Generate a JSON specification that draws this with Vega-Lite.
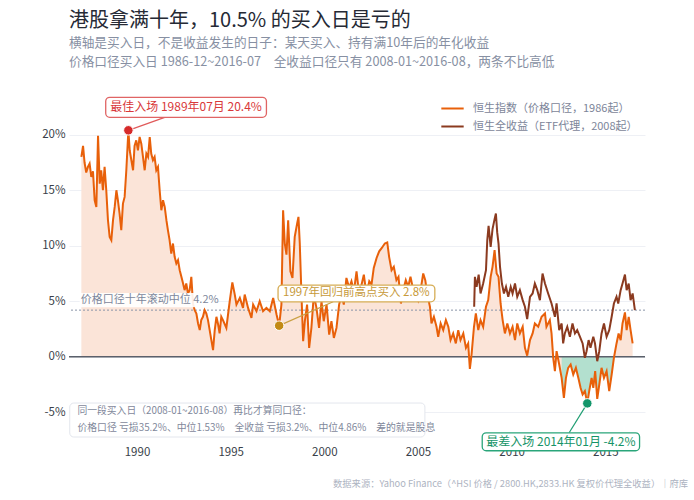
{
  "$schema": "https://vega.github.io/schema/vega-lite/v6.json",
  "autosize": {"type": "none"},
  "padding": {"left": 69, "top": 107, "right": 49, "bottom": 60},
  "width": 576,
  "height": 333,
  "background": "white",
  "title": {
    "text": "港股拿满十年，10.5% 的买入日是亏的",
    "subtitle": [
      "横轴是买入日，不是收益发生的日子：某天买入、持有满10年后的年化收益",
      "价格口径买入日 1986-12~2016-07　全收益口径只有 2008-01~2016-08，两条不比高低"
    ],
    "anchor": "start",
    "frame": "group",
    "offset": 27,
    "fontSize": 20,
    "fontWeight": "normal",
    "color": "#262a35",
    "subtitleFontSize": 12.7,
    "subtitleColor": "#8790a3",
    "subtitlePadding": 6,
    "subtitleLineHeight": 19
  },
  "config": {
    "font": "Noto Sans CJK SC",
    "view": {"stroke": null}
  },
  "datasets": {
    "price": [
      {"t": 1987.03, "v": 18.0}, {"t": 1987.12, "v": 19.0}, {"t": 1987.20, "v": 17.5}, {"t": 1987.29, "v": 16.6},
      {"t": 1987.38, "v": 17.1}, {"t": 1987.47, "v": 17.4}, {"t": 1987.56, "v": 16.2}, {"t": 1987.65, "v": 16.7},
      {"t": 1987.74, "v": 14.1}, {"t": 1987.83, "v": 13.5}, {"t": 1987.92, "v": 19.9}, {"t": 1988.01, "v": 15.6},
      {"t": 1988.09, "v": 16.8}, {"t": 1988.18, "v": 15.0}, {"t": 1988.27, "v": 17.1}, {"t": 1988.36, "v": 15.0},
      {"t": 1988.45, "v": 12.3}, {"t": 1988.54, "v": 10.8}, {"t": 1988.63, "v": 10.5}, {"t": 1988.72, "v": 12.3},
      {"t": 1988.81, "v": 13.5}, {"t": 1988.90, "v": 15.0}, {"t": 1988.98, "v": 14.1}, {"t": 1989.07, "v": 12.9},
      {"t": 1989.16, "v": 11.4}, {"t": 1989.25, "v": 13.8}, {"t": 1989.34, "v": 14.4}, {"t": 1989.43, "v": 16.8},
      {"t": 1989.54, "v": 20.4}, {"t": 1989.61, "v": 18.6}, {"t": 1989.70, "v": 17.7}, {"t": 1989.79, "v": 16.8},
      {"t": 1989.87, "v": 19.0}, {"t": 1989.96, "v": 19.5}, {"t": 1990.05, "v": 18.6}, {"t": 1990.14, "v": 19.8},
      {"t": 1990.23, "v": 19.2}, {"t": 1990.32, "v": 18.0}, {"t": 1990.41, "v": 16.8}, {"t": 1990.50, "v": 18.3},
      {"t": 1990.59, "v": 18.0}, {"t": 1990.68, "v": 19.8}, {"t": 1990.76, "v": 18.3}, {"t": 1990.85, "v": 17.7},
      {"t": 1990.94, "v": 18.0}, {"t": 1991.03, "v": 16.8}, {"t": 1991.12, "v": 17.1}, {"t": 1991.21, "v": 15.0},
      {"t": 1991.30, "v": 13.2}, {"t": 1991.39, "v": 14.1}, {"t": 1991.48, "v": 13.5}, {"t": 1991.57, "v": 12.3},
      {"t": 1991.65, "v": 11.4}, {"t": 1991.74, "v": 10.5}, {"t": 1991.83, "v": 9.3}, {"t": 1991.92, "v": 10.2},
      {"t": 1992.01, "v": 9.0}, {"t": 1992.10, "v": 8.4}, {"t": 1992.19, "v": 8.7}, {"t": 1992.28, "v": 7.8},
      {"t": 1992.37, "v": 7.2}, {"t": 1992.46, "v": 6.6}, {"t": 1992.54, "v": 6.0}, {"t": 1992.63, "v": 6.6},
      {"t": 1992.72, "v": 5.7}, {"t": 1992.81, "v": 6.0}, {"t": 1992.90, "v": 7.2}, {"t": 1992.99, "v": 4.8},
      {"t": 1993.08, "v": 4.2}, {"t": 1993.17, "v": 3.9}, {"t": 1993.26, "v": 3.0}, {"t": 1993.35, "v": 2.4},
      {"t": 1993.43, "v": 3.3}, {"t": 1993.52, "v": 3.6}, {"t": 1993.61, "v": 4.2}, {"t": 1993.70, "v": 3.9},
      {"t": 1993.79, "v": 3.3}, {"t": 1993.88, "v": 2.4}, {"t": 1993.97, "v": 1.5}, {"t": 1994.06, "v": 0.6},
      {"t": 1994.15, "v": 2.4}, {"t": 1994.24, "v": 3.6}, {"t": 1994.32, "v": 3.0}, {"t": 1994.41, "v": 2.1},
      {"t": 1994.50, "v": 3.6}, {"t": 1994.59, "v": 3.3}, {"t": 1994.77, "v": 2.6}, {"t": 1994.95, "v": 5.0},
      {"t": 1995.09, "v": 6.7}, {"t": 1995.22, "v": 5.6}, {"t": 1995.31, "v": 4.7}, {"t": 1995.49, "v": 5.3},
      {"t": 1995.66, "v": 4.4}, {"t": 1995.75, "v": 5.6}, {"t": 1995.93, "v": 4.4}, {"t": 1996.11, "v": 3.5},
      {"t": 1996.20, "v": 4.7}, {"t": 1996.38, "v": 4.1}, {"t": 1996.55, "v": 5.0}, {"t": 1996.73, "v": 4.1},
      {"t": 1996.91, "v": 4.4}, {"t": 1997.09, "v": 4.1}, {"t": 1997.27, "v": 5.3}, {"t": 1997.45, "v": 3.8},
      {"t": 1997.59, "v": 2.8}, {"t": 1997.71, "v": 4.7}, {"t": 1997.80, "v": 13.2}, {"t": 1997.89, "v": 10.2},
      {"t": 1997.98, "v": 9.2}, {"t": 1998.07, "v": 12.3}, {"t": 1998.19, "v": 7.7}, {"t": 1998.30, "v": 7.1},
      {"t": 1998.42, "v": 10.8}, {"t": 1998.55, "v": 12.0}, {"t": 1998.62, "v": 12.6}, {"t": 1998.69, "v": 10.2},
      {"t": 1998.78, "v": 5.6}, {"t": 1998.87, "v": 1.4}, {"t": 1998.96, "v": 3.2}, {"t": 1999.08, "v": 4.7},
      {"t": 1999.19, "v": 0.8}, {"t": 1999.31, "v": 2.6}, {"t": 1999.44, "v": 5.6}, {"t": 1999.58, "v": 4.4},
      {"t": 1999.72, "v": 2.6}, {"t": 1999.85, "v": 5.0}, {"t": 1999.97, "v": 3.2}, {"t": 2000.12, "v": 4.7},
      {"t": 2000.26, "v": 2.0}, {"t": 2000.38, "v": 3.2}, {"t": 2000.51, "v": 1.7}, {"t": 2000.65, "v": 2.6},
      {"t": 2000.79, "v": 4.7}, {"t": 2000.92, "v": 5.6}, {"t": 2001.04, "v": 4.7}, {"t": 2001.18, "v": 7.1},
      {"t": 2001.33, "v": 6.2}, {"t": 2001.45, "v": 6.8}, {"t": 2001.58, "v": 5.9}, {"t": 2001.72, "v": 7.7},
      {"t": 2001.86, "v": 5.6}, {"t": 2001.99, "v": 6.5}, {"t": 2002.11, "v": 7.4}, {"t": 2002.25, "v": 5.6},
      {"t": 2002.40, "v": 6.8}, {"t": 2002.52, "v": 6.5}, {"t": 2002.64, "v": 8.0}, {"t": 2002.79, "v": 8.9},
      {"t": 2002.93, "v": 9.5}, {"t": 2003.07, "v": 9.8}, {"t": 2003.23, "v": 10.2}, {"t": 2003.36, "v": 10.3},
      {"t": 2003.46, "v": 9.0}, {"t": 2003.59, "v": 7.8}, {"t": 2003.71, "v": 8.1}, {"t": 2003.85, "v": 6.9},
      {"t": 2003.96, "v": 7.2}, {"t": 2004.09, "v": 4.8}, {"t": 2004.21, "v": 6.0}, {"t": 2004.35, "v": 6.9},
      {"t": 2004.48, "v": 6.3}, {"t": 2004.60, "v": 7.2}, {"t": 2004.75, "v": 6.0}, {"t": 2004.89, "v": 5.7},
      {"t": 2005.01, "v": 5.1}, {"t": 2005.14, "v": 6.0}, {"t": 2005.28, "v": 7.5}, {"t": 2005.39, "v": 6.9},
      {"t": 2005.49, "v": 5.7}, {"t": 2005.64, "v": 4.5}, {"t": 2005.72, "v": 3.0}, {"t": 2005.85, "v": 3.6},
      {"t": 2005.99, "v": 2.7}, {"t": 2006.08, "v": 1.8}, {"t": 2006.21, "v": 3.0}, {"t": 2006.35, "v": 2.4},
      {"t": 2006.49, "v": 3.3}, {"t": 2006.62, "v": 2.7}, {"t": 2006.74, "v": 1.5}, {"t": 2006.88, "v": 2.1},
      {"t": 2007.02, "v": 1.2}, {"t": 2007.15, "v": 2.4}, {"t": 2007.27, "v": 1.5}, {"t": 2007.42, "v": 2.1},
      {"t": 2007.56, "v": 0.8}, {"t": 2007.68, "v": 1.2}, {"t": 2007.77, "v": -1.1}, {"t": 2007.86, "v": 0.2},
      {"t": 2007.99, "v": 2.7}, {"t": 2008.09, "v": 3.9}, {"t": 2008.22, "v": 2.4}, {"t": 2008.34, "v": 3.3},
      {"t": 2008.48, "v": 2.7}, {"t": 2008.63, "v": 4.5}, {"t": 2008.75, "v": 5.1}, {"t": 2008.88, "v": 7.2},
      {"t": 2008.98, "v": 8.1}, {"t": 2009.09, "v": 9.6}, {"t": 2009.20, "v": 7.5}, {"t": 2009.30, "v": 7.2},
      {"t": 2009.41, "v": 4.8}, {"t": 2009.52, "v": 3.3}, {"t": 2009.64, "v": 2.1}, {"t": 2009.77, "v": 3.0},
      {"t": 2009.91, "v": 2.1}, {"t": 2010.05, "v": 2.7}, {"t": 2010.18, "v": 1.5}, {"t": 2010.30, "v": 3.0},
      {"t": 2010.44, "v": 2.1}, {"t": 2010.59, "v": 2.7}, {"t": 2010.71, "v": 0.8}, {"t": 2010.83, "v": 0.1},
      {"t": 2010.98, "v": 1.5}, {"t": 2011.12, "v": 2.1}, {"t": 2011.24, "v": 3.0}, {"t": 2011.42, "v": 2.7},
      {"t": 2011.60, "v": 3.6}, {"t": 2011.78, "v": 3.9}, {"t": 2011.86, "v": 2.7}, {"t": 2012.04, "v": 3.3},
      {"t": 2012.13, "v": 2.1}, {"t": 2012.22, "v": -0.1}, {"t": 2012.31, "v": -1.3}, {"t": 2012.40, "v": 0.5},
      {"t": 2012.54, "v": -0.7}, {"t": 2012.67, "v": -1.9}, {"t": 2012.79, "v": -3.7}, {"t": 2012.90, "v": -1.9},
      {"t": 2013.02, "v": -1.0}, {"t": 2013.15, "v": -0.7}, {"t": 2013.29, "v": -1.6}, {"t": 2013.43, "v": -1.0},
      {"t": 2013.56, "v": -1.9}, {"t": 2013.68, "v": -2.8}, {"t": 2013.79, "v": -3.4}, {"t": 2013.91, "v": -3.1},
      {"t": 2014.04, "v": -4.2}, {"t": 2014.14, "v": -3.1}, {"t": 2014.27, "v": -1.9}, {"t": 2014.36, "v": -2.8},
      {"t": 2014.46, "v": -1.3}, {"t": 2014.57, "v": -3.8}, {"t": 2014.68, "v": -2.5}, {"t": 2014.80, "v": -1.0},
      {"t": 2014.93, "v": -1.9}, {"t": 2015.07, "v": -1.3}, {"t": 2015.21, "v": -3.1}, {"t": 2015.34, "v": -1.6},
      {"t": 2015.46, "v": -0.1}, {"t": 2015.60, "v": 1.2}, {"t": 2015.71, "v": 2.1}, {"t": 2015.82, "v": 1.5},
      {"t": 2015.92, "v": 3.0}, {"t": 2016.05, "v": 4.0}, {"t": 2016.14, "v": 2.4}, {"t": 2016.25, "v": 3.6},
      {"t": 2016.35, "v": 2.4}, {"t": 2016.46, "v": 1.2}
    ],
    "total": [
      {"t": 2008.00, "v": 4.5}, {"t": 2008.04, "v": 7.2}, {"t": 2008.13, "v": 6.3}, {"t": 2008.24, "v": 7.4},
      {"t": 2008.34, "v": 5.7}, {"t": 2008.48, "v": 6.6}, {"t": 2008.63, "v": 7.8}, {"t": 2008.70, "v": 10.5},
      {"t": 2008.77, "v": 11.8}, {"t": 2008.88, "v": 9.9}, {"t": 2008.98, "v": 11.5}, {"t": 2009.09, "v": 12.4},
      {"t": 2009.16, "v": 12.9}, {"t": 2009.23, "v": 11.2}, {"t": 2009.30, "v": 10.2}, {"t": 2009.38, "v": 8.1},
      {"t": 2009.48, "v": 6.6}, {"t": 2009.59, "v": 5.7}, {"t": 2009.70, "v": 6.3}, {"t": 2009.82, "v": 5.4},
      {"t": 2009.95, "v": 6.3}, {"t": 2010.05, "v": 5.7}, {"t": 2010.18, "v": 6.6}, {"t": 2010.30, "v": 5.4},
      {"t": 2010.44, "v": 6.0}, {"t": 2010.59, "v": 5.1}, {"t": 2010.71, "v": 4.5}, {"t": 2010.83, "v": 3.4},
      {"t": 2010.98, "v": 5.4}, {"t": 2011.12, "v": 5.7}, {"t": 2011.24, "v": 6.6}, {"t": 2011.37, "v": 6.0},
      {"t": 2011.51, "v": 5.1}, {"t": 2011.65, "v": 7.5}, {"t": 2011.78, "v": 6.6}, {"t": 2011.95, "v": 5.7},
      {"t": 2012.13, "v": 4.8}, {"t": 2012.31, "v": 3.6}, {"t": 2012.40, "v": 4.8}, {"t": 2012.54, "v": 2.4},
      {"t": 2012.67, "v": 3.0}, {"t": 2012.75, "v": 1.2}, {"t": 2012.84, "v": 2.1}, {"t": 2012.97, "v": 2.7},
      {"t": 2013.11, "v": 1.8}, {"t": 2013.25, "v": 3.0}, {"t": 2013.38, "v": 2.1}, {"t": 2013.50, "v": 2.4},
      {"t": 2013.65, "v": 1.8}, {"t": 2013.79, "v": 1.2}, {"t": 2013.91, "v": -0.1}, {"t": 2014.00, "v": 0.5},
      {"t": 2014.11, "v": 1.5}, {"t": 2014.21, "v": 0.8}, {"t": 2014.36, "v": 1.8}, {"t": 2014.45, "v": 1.2},
      {"t": 2014.57, "v": -0.4}, {"t": 2014.68, "v": 0.5}, {"t": 2014.80, "v": 2.1}, {"t": 2014.93, "v": 3.0},
      {"t": 2015.07, "v": 1.8}, {"t": 2015.21, "v": 2.4}, {"t": 2015.34, "v": 3.6}, {"t": 2015.46, "v": 4.8},
      {"t": 2015.60, "v": 5.4}, {"t": 2015.69, "v": 4.8}, {"t": 2015.82, "v": 6.0}, {"t": 2015.92, "v": 6.6},
      {"t": 2016.05, "v": 7.4}, {"t": 2016.14, "v": 6.0}, {"t": 2016.25, "v": 6.6}, {"t": 2016.35, "v": 5.1},
      {"t": 2016.46, "v": 5.7}, {"t": 2016.58, "v": 4.2}
    ],
    "one": [{}]
  },
  "layer": [
    {
      "data": {"name": "price"},
      "mark": {"type": "area", "color": "#fbe4d8"},
      "encoding": {
        "x": {
          "field": "t", "type": "quantitative",
          "scale": {"domain": [1986.37, 2017.12], "nice": false, "zero": false},
          "axis": {
            "title": null, "values": [1990, 1995, 2000, 2005, 2010, 2015], "format": "d",
            "grid": false, "domain": false, "ticks": false, "labelPadding": 6,
            "labelFontSize": 11.5, "labelColor": "#3a3f4a"
          }
        },
        "y": {
          "field": "v", "type": "quantitative",
          "scale": {"domain": [-7.5, 22.5], "nice": false, "zero": false},
          "axis": {
            "title": null, "values": [-5, 0, 5, 10, 15, 20], "labelExpr": "datum.value + '%'",
            "grid": true, "gridColor": "#eef0f5", "domain": false, "ticks": false,
            "labelPadding": 4, "labelFontSize": 11.5, "labelColor": "#3a3f4a"
          }
        },
        "y2": {"datum": 0}
      }
    },
    {
      "data": {"name": "price"},
      "transform": [{"filter": "datum.t >= 2012.6 && datum.t <= 2015.5 && datum.v < 0"}],
      "mark": {"type": "area", "color": "#b3e0cf"},
      "encoding": {
        "x": {"field": "t", "type": "quantitative"},
        "y": {"field": "v", "type": "quantitative"},
        "y2": {"datum": 0}
      }
    },
    {
      "data": {"name": "one"},
      "mark": {"type": "rule", "color": "#5b606b", "strokeWidth": 1.6},
      "encoding": {"y": {"datum": 0}}
    },
    {
      "data": {"name": "one"},
      "mark": {"type": "rule", "color": "#8a94a8", "strokeWidth": 1, "strokeDash": [2, 2]},
      "encoding": {"y": {"datum": 4.2}}
    },
    {
      "data": {"name": "total"},
      "mark": {"type": "line", "strokeWidth": 2},
      "encoding": {
        "x": {"field": "t", "type": "quantitative"},
        "y": {"field": "v", "type": "quantitative"},
        "color": {
          "datum": "恒生全收益（ETF代理，2008起）",
          "scale": {
            "domain": ["恒生指数（价格口径，1986起）", "恒生全收益（ETF代理，2008起）"],
            "range": ["#e8600a", "#8b3a1f"]
          },
          "legend": {
            "orient": "none", "legendX": 371, "legendY": -11, "title": null,
            "symbolType": "stroke", "symbolSize": 500, "symbolStrokeWidth": 2,
            "labelFontSize": 11, "labelColor": "#7d8599", "labelLimit": 300,
            "rowPadding": -6, "labelOffset": 8
          }
        }
      }
    },
    {
      "data": {"name": "price"},
      "mark": {"type": "line", "strokeWidth": 2},
      "encoding": {
        "x": {"field": "t", "type": "quantitative"},
        "y": {"field": "v", "type": "quantitative"},
        "color": {"datum": "恒生指数（价格口径，1986起）"}
      }
    },
    {
      "data": {"name": "one"},
      "mark": {"type": "rect", "color": "white", "opacity": 0.9},
      "encoding": {
        "x": {"datum": 1986.94}, "x2": {"datum": 1994.1},
        "y": {"datum": 5.74}, "y2": {"datum": 4.47}
      }
    },
    {
      "data": {"name": "one"},
      "mark": {"type": "text", "text": "价格口径十年滚动中位 4.2%", "align": "left", "baseline": "middle", "fontSize": 11, "color": "#7d879b"},
      "encoding": {"x": {"datum": 1987.0}, "y": {"datum": 5.15}}
    },
    {
      "data": {"name": "one"},
      "mark": {"type": "rule", "color": "#e05a5a", "strokeWidth": 1.2},
      "encoding": {
        "x": {"datum": 1989.54}, "y": {"datum": 20.4},
        "x2": {"datum": 1991.48}, "y2": {"datum": 21.57}
      }
    },
    {
      "data": {"name": "one"},
      "mark": {"type": "rect", "fill": "white", "stroke": "#e06464", "strokeWidth": 1.3, "cornerRadius": 4},
      "encoding": {
        "x": {"datum": 1988.33}, "x2": {"datum": 1996.91},
        "y": {"datum": 23.37}, "y2": {"datum": 21.57}
      }
    },
    {
      "data": {"name": "one"},
      "mark": {"type": "text", "text": "最佳入场 1989年07月 20.4%", "align": "center", "baseline": "middle", "fontSize": 12, "color": "#d9383a"},
      "encoding": {"x": {"datum": 1992.62}, "y": {"datum": 22.47}}
    },
    {
      "data": {"name": "one"},
      "mark": {"type": "point", "filled": true, "fill": "#d62a2a", "opacity": 1, "size": 90, "stroke": "white", "strokeWidth": 1},
      "encoding": {"x": {"datum": 1989.54}, "y": {"datum": 20.4}}
    },
    {
      "data": {"name": "one"},
      "mark": {"type": "rule", "color": "#c9a043", "strokeWidth": 1.2},
      "encoding": {
        "x": {"datum": 1997.59}, "y": {"datum": 2.8},
        "x2": {"datum": 2000.47}, "y2": {"datum": 4.95}
      }
    },
    {
      "data": {"name": "one"},
      "mark": {"type": "rect", "fill": "white", "stroke": "#d6ad55", "strokeWidth": 1.3, "cornerRadius": 4},
      "encoding": {
        "x": {"datum": 1997.53}, "x2": {"datum": 2005.9},
        "y": {"datum": 6.46}, "y2": {"datum": 4.95}
      }
    },
    {
      "data": {"name": "one"},
      "mark": {"type": "text", "text": "1997年回归前高点买入 2.8%", "align": "center", "baseline": "middle", "fontSize": 11.5, "color": "#c79a3a"},
      "encoding": {"x": {"datum": 2001.71}, "y": {"datum": 5.7}}
    },
    {
      "data": {"name": "one"},
      "mark": {"type": "point", "filled": true, "fill": "#c28a14", "opacity": 1, "size": 90, "stroke": "white", "strokeWidth": 1},
      "encoding": {"x": {"datum": 1997.59}, "y": {"datum": 2.8}}
    },
    {
      "data": {"name": "one"},
      "mark": {"type": "rule", "color": "#1f9d72", "strokeWidth": 1.2},
      "encoding": {
        "x": {"datum": 2014.04}, "y": {"datum": -4.2},
        "x2": {"datum": 2013.07}, "y2": {"datum": -6.85}
      }
    },
    {
      "data": {"name": "one"},
      "mark": {"type": "rect", "fill": "white", "stroke": "#2aa57a", "strokeWidth": 1.3, "cornerRadius": 4},
      "encoding": {
        "x": {"datum": 2008.43}, "x2": {"datum": 2016.83},
        "y": {"datum": -6.85}, "y2": {"datum": -8.47}
      }
    },
    {
      "data": {"name": "one"},
      "mark": {"type": "text", "text": "最差入场 2014年01月 -4.2%", "align": "center", "baseline": "middle", "fontSize": 12, "color": "#169467"},
      "encoding": {"x": {"datum": 2012.63}, "y": {"datum": -7.66}}
    },
    {
      "data": {"name": "one"},
      "mark": {"type": "point", "filled": true, "fill": "#12966a", "opacity": 1, "size": 90, "stroke": "white", "strokeWidth": 1},
      "encoding": {"x": {"datum": 2014.04}, "y": {"datum": -4.2}}
    },
    {
      "data": {"name": "one"},
      "mark": {"type": "rect", "fill": "white", "stroke": "#e3e6ed", "strokeWidth": 1, "cornerRadius": 4},
      "encoding": {
        "x": {"datum": 1986.41}, "x2": {"datum": 2005.37},
        "y": {"datum": -4.17}, "y2": {"datum": -7.23}
      }
    },
    {
      "data": {"name": "one"},
      "mark": {"type": "text", "text": "同一段买入日（2008-01~2016-08）再比才算同口径：", "align": "left", "baseline": "middle", "fontSize": 9.8, "color": "#7f889b"},
      "encoding": {"x": {"datum": 1986.82}, "y": {"datum": -4.88}}
    },
    {
      "data": {"name": "one"},
      "mark": {"type": "text", "text": "价格口径 亏损35.2%、中位1.53%　全收益 亏损3.2%、中位4.86%　差的就是股息", "align": "left", "baseline": "middle", "fontSize": 9.85, "color": "#7f889b"},
      "encoding": {"x": {"datum": 1986.82}, "y": {"datum": -6.42}}
    },
    {
      "data": {"name": "one"},
      "mark": {"type": "text", "text": "数据来源：Yahoo Finance（^HSI 价格 / 2800.HK,2833.HK 复权价代理全收益）｜府库", "align": "right", "baseline": "middle", "fontSize": 9.3, "color": "#adb3c1"},
      "encoding": {"x": {"datum": 2019.42}, "y": {"datum": -11.47}}
    }
  ]
}
